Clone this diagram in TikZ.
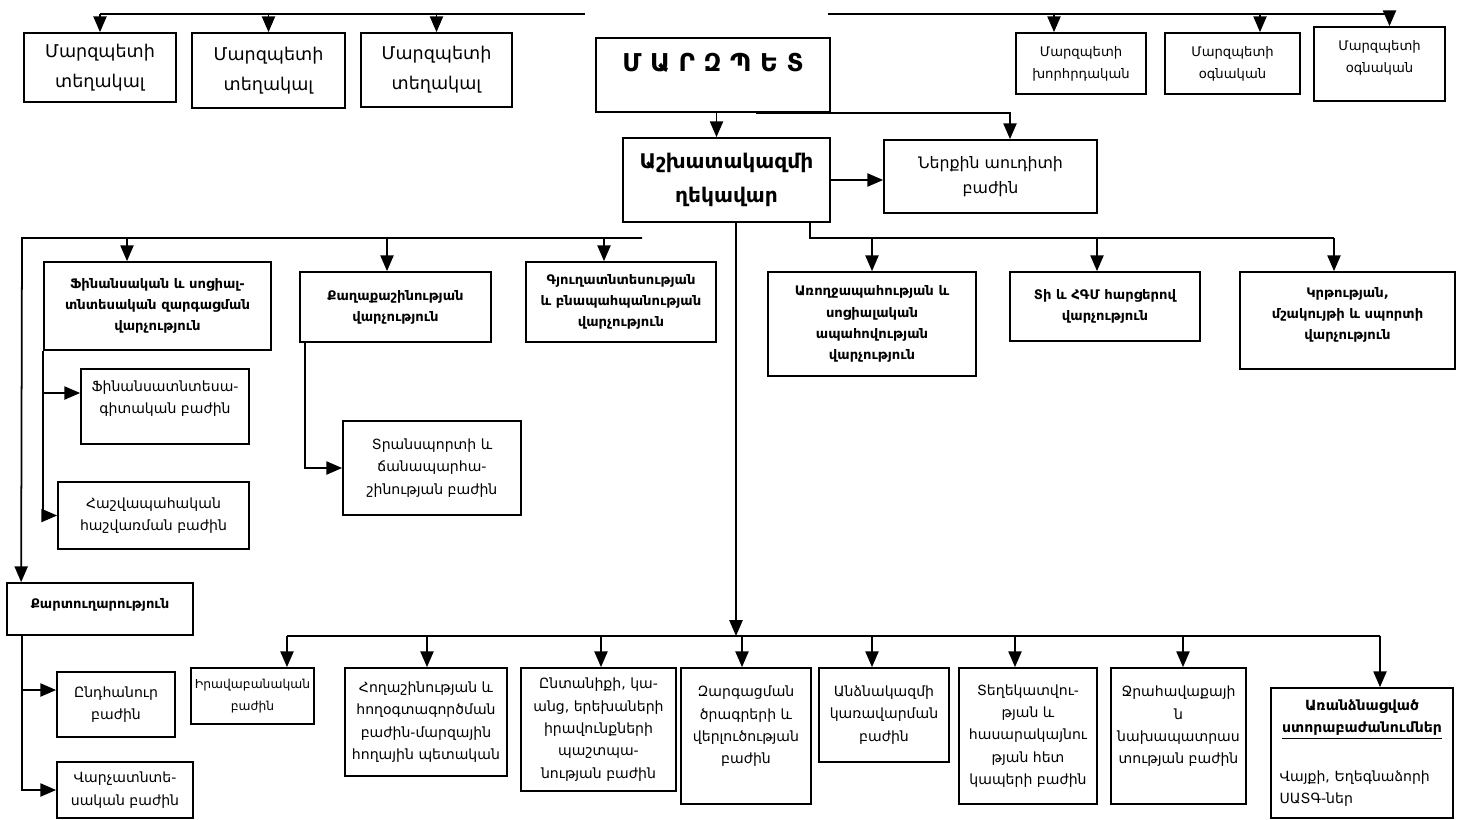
\documentclass[tikz,border=0pt]{standalone}
\usepackage{fontspec}
\setmainfont{DejaVu Sans}
\usepackage{tikz}
\usetikzlibrary{arrows.meta}
\usetikzlibrary{positioning}

\begin{document}
\begin{tikzpicture}[x=0.02cm,y=-0.02cm,
  box/.style={rectangle,draw=black,line width=1pt,align=center,inner sep=1pt},
  big/.style={box,font=\fontsize{10}{17}\selectfont},
  small/.style={box,font=\fontsize{7.5}{12.5}\selectfont},
  dept/.style={box,font=\bfseries\fontsize{7.5}{12}\selectfont},
  sub/.style={box,font=\fontsize{8}{12.7}\selectfont},
  ln/.style={line width=1pt},
  arr/.style={ln,-{Triangle[length=9pt,width=7.5pt]}}]
\useasboundingbox (0,0) rectangle (1461,819);
% top row
\node[big,minimum width=3.04cm,minimum height=1.38cm] (dep1) at (100,67.5) {Մարզպետի\\տեղակալ};
\node[big,minimum width=3.06cm,minimum height=1.5cm] (dep2) at (268.5,70.5) {Մարզպետի\\տեղակալ};
\node[big,minimum width=3.02cm,minimum height=1.48cm] (dep3) at (436.5,70) {Մարզպետի\\տեղակալ};
\node[box,font=\bfseries\fontsize{14}{17}\selectfont,minimum width=4.68cm,minimum height=1.48cm] (marz) at (713,75) {Մ Ա Ր Զ Պ Ե Տ\\[-3pt]\mbox{}};
\node[small,minimum width=2.6cm,minimum height=1.22cm] (khorh) at (1081,63.5) {Մարզպետի\\խորհրդական};
\node[small,minimum width=2.7cm,minimum height=1.22cm] (ogn1) at (1232.5,63.5) {Մարզպետի\\օգնական};
\node[small,minimum width=2.62cm,minimum height=1.48cm] (ogn2) at (1379.5,64) {Մարզպետի\\օգնական\\[-4pt]\mbox{}};
\node[box,font=\bfseries\fontsize{11.5}{19}\selectfont,minimum width=4.14cm,minimum height=1.68cm] (ashx) at (726.5,180) {Աշխատակազմի\\ղեկավար};
\node[box,font=\fontsize{9}{14.5}\selectfont,minimum width=4.26cm,minimum height=1.46cm] (audit) at (990.5,176.5) {Ներքին աուդիտի\\բաժին};
% departments
\node[dept,minimum width=4.54cm,minimum height=1.76cm] (fin) at (157.5,306) {Ֆինանսական և սոցիալ-\\տնտեսական զարգացման\\վարչություն};
\node[dept,minimum width=3.82cm,minimum height=1.4cm] (qagh) at (395.5,307) {Քաղաքաշինության\\վարչություն};
\node[dept,minimum width=3.8cm,minimum height=1.6cm] (gyugh) at (621,302) {Գյուղատնտեսության\\և բնապահպանության\\վարչություն};
\node[dept,minimum width=4.16cm,minimum height=2.08cm] (arogj) at (872,324) {Առողջապահության և\\սոցիալական\\ապահովության\\վարչություն};
\node[dept,minimum width=3.8cm,minimum height=1.38cm] (ti) at (1105,306.5) {Տի և ՀԳՄ հարցերով\\վարչություն};
\node[dept,minimum width=4.3cm,minimum height=1.94cm] (krt) at (1347.5,320.5) {Կրթության,\\մշակույթի և սպորտի\\վարչություն\\[-4pt]\mbox{}};
\node[sub,minimum width=3.36cm,minimum height=1.5cm] (finsub) at (165,406.5) {Ֆինանսատնտեսա-\\գիտական բաժին\\[-2pt]\mbox{}};
\node[sub,minimum width=3.82cm,minimum height=1.34cm] (hashv) at (153.5,515.5) {Հաշվապահական\\հաշվառման բաժին};
\node[sub,minimum width=3.56cm,minimum height=1.88cm] (transp) at (432,468) {Տրանսպորտի և\\ճանապարհա-\\շինության բաժին};
\node[dept,minimum width=3.72cm,minimum height=1.04cm] (qart) at (100,609) {Քարտուղարություն\\[-6pt]\mbox{}};
\node[sub,minimum width=2.36cm,minimum height=1.3cm] (endh) at (116,704.5) {Ընդհանուր\\բաժին};
\node[sub,minimum width=2.72cm,minimum height=1.12cm] (varch) at (125,790) {Վարչատնտե-\\սական բաժին};
% bottom row
\node[sub,font=\fontsize{7}{12.7}\selectfont,minimum width=2.46cm,minimum height=1.12cm] (irav) at (252.5,696) {Իրավաբանական\\բաժին};
\node[sub,minimum width=3.24cm,minimum height=2.16cm] (hogh) at (426,722) {Հողաշինության և\\հողօգտագործման\\բաժին-մարզային\\հողային պետական};
\node[sub,minimum width=3.1cm,minimum height=2.46cm] (entan) at (598.5,729.5) {Ընտանիքի, կա-\\անց, երեխաների\\իրավունքների\\պաշտպա-\\նության բաժին};
\node[sub,minimum width=2.6cm,minimum height=2.72cm] (zarg) at (746,736) {Զարգացման\\ծրագրերի և\\վերլուծության\\բաժին\\\mbox{}};
\node[sub,minimum width=2.6cm,minimum height=1.88cm] (andz) at (884,715) {Անձնակազմի\\կառավարման\\բաժին};
\node[sub,minimum width=2.76cm,minimum height=2.72cm] (tegh) at (1028,736) {Տեղեկատվու-\\թյան և\\հասարակայնու\\թյան հետ\\կապերի բաժին};
\node[sub,minimum width=2.7cm,minimum height=2.72cm] (jrah) at (1178.5,736) {Ջրահավաքայի\\ն\\նախապատրաս\\տության բաժին\\\mbox{}};
\node[box,font=\fontsize{8}{12.7}\selectfont,text width=3.58cm,minimum height=2.6cm] (arand) at (1362,753) {\centering\bfseries Առանձնացված\\\underline{ստորաբաժանումներ}\par\vspace{15pt}\raggedright\mdseries\hspace*{4pt}Վայքի, Եղեգնաձորի\\\hspace*{4pt}ՍԱՏԳ-ներ\par};
% buses
\coordinate (tl) at (585,14);
\coordinate (tr) at (828,14);
\coordinate (lb) at (642,238);
\coordinate (rb) at (810,238);
\coordinate (bb) at (287,636);
% top lines
\draw[ln] (tl) -- (dep1.north |- tl);
\foreach \n in {dep1,dep2,dep3} \draw[arr] (\n.north |- tl) -- (\n.north);
\draw[ln] (tr) -- ([xshift=0.2cm]ogn2.north |- tr);
\draw[arr] ([xshift=-0.54cm]khorh.north |- tr) -- ([xshift=-0.54cm]khorh.north);
\draw[arr] ([xshift=0.55cm]ogn1.north |- tr) -- ([xshift=0.55cm]ogn1.north);
\draw[arr] ([xshift=0.2cm]ogn2.north |- tr) -- ([xshift=0.2cm]ogn2.north);
% marzpet
\draw[arr] ([xshift=-0.2cm]ashx.north |- marz.south) -- ([xshift=-0.2cm]ashx.north);
\draw[arr] ([xshift=0.86cm]marz.south) -| ([xshift=0.39cm]audit.north);
\draw[arr] (ashx.east) -- (ashx.east -| audit.west);
% left branch
\draw[arr] (lb) -- (lb -| 22,0) -- ([xshift=0.3cm]qart.north west);
\draw[arr] ([xshift=-0.61cm]fin.north |- lb) -- ([xshift=-0.61cm]fin.north);
\draw[arr] ([xshift=-0.17cm]qagh.north |- lb) -- ([xshift=-0.17cm]qagh.north);
\draw[arr] ([xshift=-0.34cm]gyugh.north |- lb) -- ([xshift=-0.34cm]gyugh.north);
\draw[arr] (fin.south west) |- (hashv.west);
\draw[arr] ([yshift=0.27cm]finsub.west -| fin.south west) -- ([yshift=0.27cm]finsub.west);
\draw[arr] ([xshift=0.12cm]qagh.south west) |- (transp.west);
\draw[arr] ([xshift=0.32cm]qart.south west) |- (varch.west);
\draw[arr] ([xshift=0.32cm]qart.south west) |- ([yshift=0.29cm]endh.west);
% right branch
\draw[ln] ([xshift=1.67cm]ashx.south) |- ([xshift=-0.27cm]krt.north |- rb);
\draw[arr] (arogj.north |- rb) -- (arogj.north);
\draw[arr] ([xshift=-0.16cm]ti.north |- rb) -- ([xshift=-0.16cm]ti.north);
\draw[arr] ([xshift=-0.27cm]krt.north |- rb) -- ([xshift=-0.27cm]krt.north);
% bottom branch
\draw[arr] ([xshift=0.19cm]ashx.south) -- ([xshift=0.19cm]ashx.south |- bb);
\draw[ln] ([xshift=0.69cm]irav.north |- bb) -- ([xshift=0.36cm]arand.north |- bb);
\foreach \n/\s in {irav/0.69,hogh/0.02,entan/0.05,zarg/-0.08,andz/-0.24,tegh/-0.26,jrah/0.09,arand/0.36}
  \draw[arr] ([xshift=\s cm]\n.north |- bb) -- ([xshift=\s cm]\n.north);
\end{tikzpicture}
\end{document}
